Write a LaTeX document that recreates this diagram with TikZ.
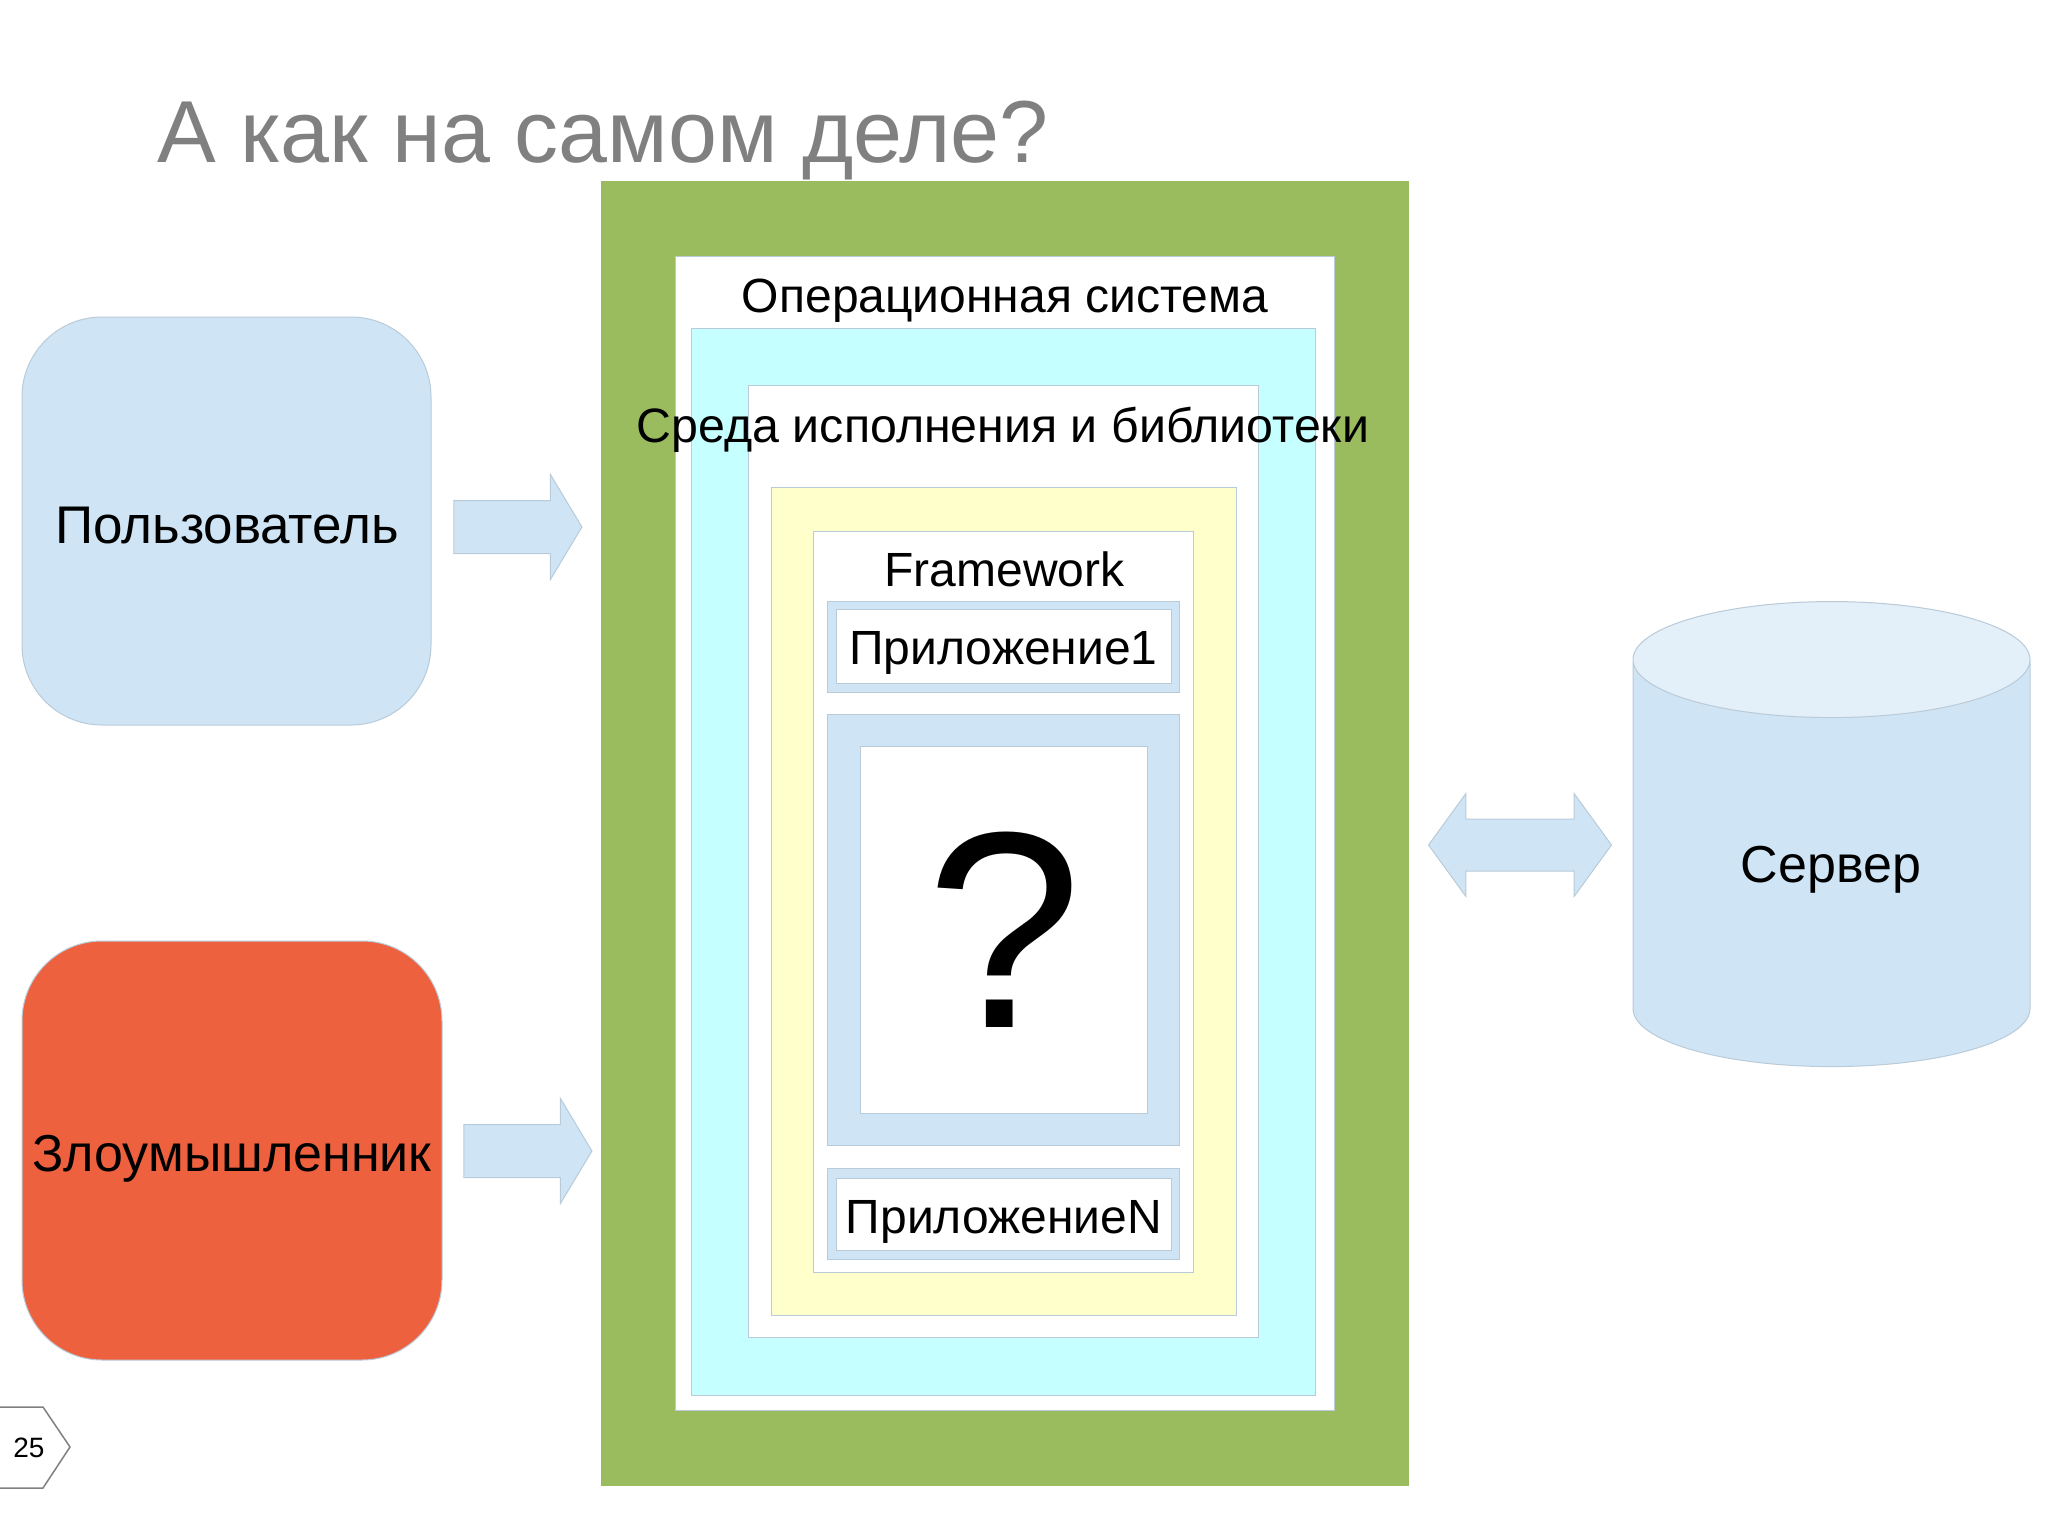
\documentclass[tikz,border=0pt]{standalone}
\usepackage{fontspec}
\setmainfont{Liberation Sans}
\usepackage{tikz}
\usetikzlibrary{shapes,shapes.arrows,shapes.geometric,positioning}
\definecolor{palegreen}{HTML}{9BBC5E}
\definecolor{paleblue}{HTML}{CFE5F5}
\definecolor{palecyan}{HTML}{C6FFFF}
\definecolor{paleyellow}{HTML}{FFFFCC}
\definecolor{palered}{HTML}{EE613F}
\definecolor{edgeblue}{HTML}{B9CAD8}
\definecolor{capblue}{HTML}{E3EFF9}
\definecolor{titlegray}{HTML}{808080}
\tikzset{
    x=1pt,y=-1pt,
    box/.style 2 args={rectangle,draw=edgeblue,line width=1pt,inner sep=0pt,outer sep=0pt,minimum width=#1 pt,minimum height=#2 pt},
    actor/.style 2 args={box={#1}{#2},rounded corners=80pt},
    txt/.style={inner sep=0pt,anchor=base,font=\fontsize{#1}{#1}\selectfont},
    blockarrow/.style={single arrow,draw=edgeblue,fill=paleblue,line width=1pt,inner xsep=0pt,inner ysep=26pt,outer sep=0pt,
        minimum height=128pt,minimum width=104pt,single arrow head extend=26pt,single arrow tip angle=118},
    twoway/.style={double arrow,draw=edgeblue,fill=paleblue,line width=1pt,inner xsep=0pt,inner ysep=25.5pt,outer sep=0pt,
        minimum height=183pt,minimum width=102pt,double arrow head extend=25.5pt,double arrow tip angle=108}
}
\begin{document}
\begin{tikzpicture}
        \useasboundingbox (0,0) rectangle (2048,1536);
        \node[txt=88,anchor=base west,text=titlegray] (title) at (157,163) {А как на самом деле?};

        \node[actor={409}{408},fill=paleblue] (user) at (226.5,521) {};
        \node[actor={420}{419},fill=palered] (attacker) at (232,1150.5) {};
        \node[txt=53] (username) at (227,543) {Пользователь};
        \node[txt=52] (attackername) at (232,1171) {Злоумышленник};
        \node[blockarrow] (userarrow) at (510,527) {};
        \node[blockarrow] (attackerarrow) at (520,1151) {};

        \node[box={807}{1304},fill=palegreen,draw=palegreen] (hardware) at (1004.5,833) {};
        \node[box={659}{1154},fill=white] (os) at (1004.5,833) {};
        \node[box={624}{1067},fill=palecyan] (runtime) at (1003,861.5) {};
        \node[box={510}{952},fill=white] (libs) at (1003,861) {};
        \node[box={465}{828},fill=paleyellow] (framework) at (1003.5,901) {};
        \node[box={380}{741},fill=white] (fwinner) at (1003,901.5) {};
        \node[box={352}{91},fill=paleblue] (app) at (1003,646.5) {};
        \node[box={335}{74},fill=white] (appinner) at (1003.5,646) {};
        \node[box={352}{431},fill=paleblue] (unknown) at (1003,929.5) {};
        \node[box={287}{367},fill=white] (unknowninner) at (1003.5,929.5) {};
        \node[box={352}{91},fill=paleblue] (appn) at (1003,1213.5) {};
        \node[box={335}{72},fill=white] (appninner) at (1003.5,1214) {};

        \node[txt=48] (osname) at (1005,312) {Операционная система};
        \node[txt=48.3] (libsname) at (1003,442) {Среда исполнения и библиотеки};
        \node[txt=48] (fwname) at (1004.5,586) {Framework};
        \node[txt=48] (appname) at (1003.5,664) {Приложение1};
        \node[txt=48] (appnname) at (1004,1233) {ПриложениеN};
        \node[txt=280] (question) at (1004,1027) {?};

        \node[twoway] (link) at (1520,845) {};
        \node[cylinder,shape border rotate=90,shape aspect=0.58,draw=edgeblue,line width=1pt,inner sep=100pt,outer sep=0pt,
            minimum width=397pt,minimum height=465pt,cylinder uses custom fill,
            cylinder body fill=paleblue,cylinder end fill=capblue] (server) at (1831.5,888.5) {};
        \node[txt=52] (servername) at (1831,882) {Сервер};

        \draw[titlegray,line width=1.5pt] (-2,1407) -- (43,1407) -- (70,1447) -- (43,1488) -- (-2,1488);
        \node[txt=28] (pagenum) at (29,1457) {25};
\end{tikzpicture}
\end{document}
